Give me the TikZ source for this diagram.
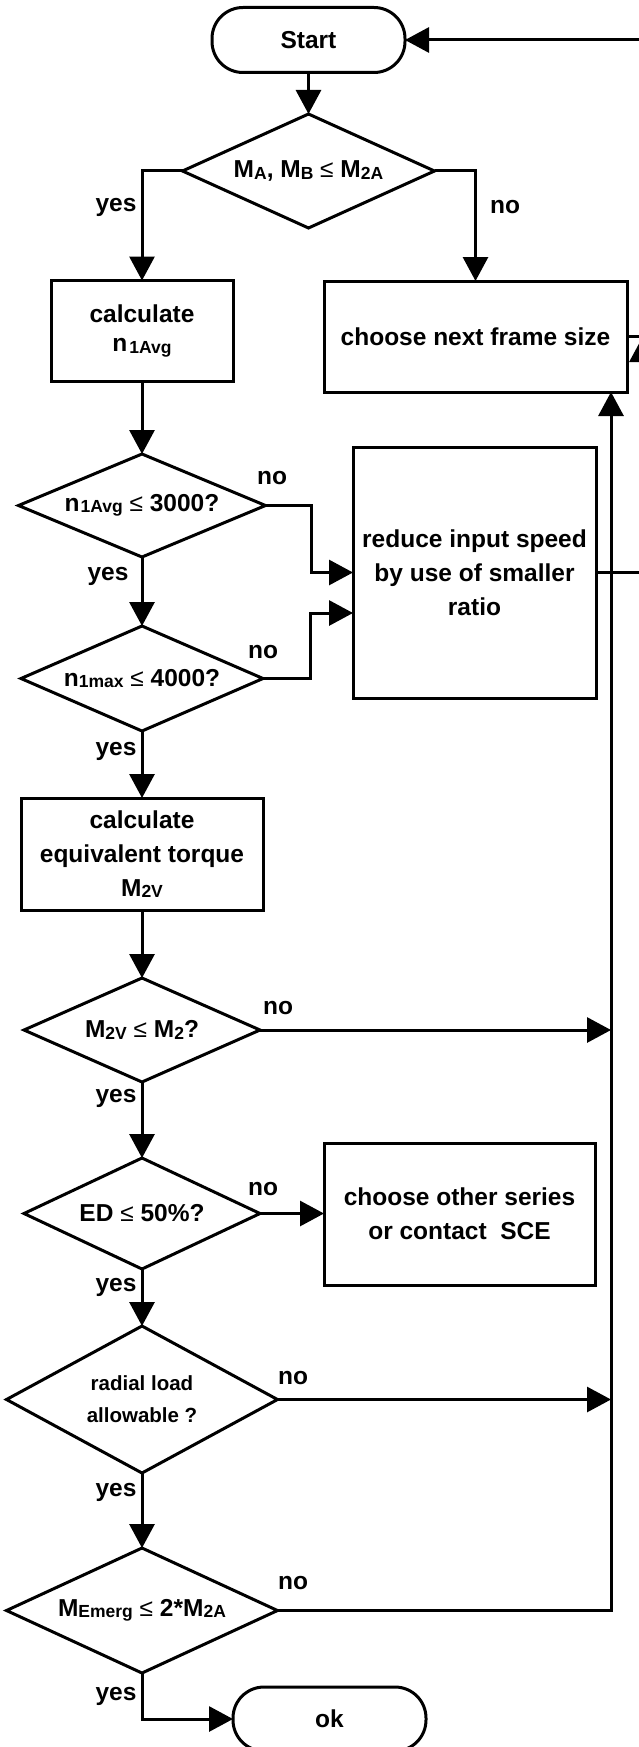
\documentclass[tikz,border=0pt]{standalone}
\usepackage{fontspec}
\setmainfont{Liberation Sans}
\usetikzlibrary{arrows.meta,shapes.geometric,calc}
\newcommand\sbx[1]{\raisebox{-1.5pt}{\fontsize{17.5}{17.5}\selectfont #1}}
\newcommand\leqsym{{\mdseries ≤}}
\begin{document}
\begin{tikzpicture}[x=1pt,y=-1pt,
  every node/.style={font=\bfseries\fontsize{24.5}{34}\selectfont},
  lw/.style={line width=3pt},
  boxnode/.style={draw,lw,rectangle,inner sep=0pt,outer sep=0pt,align=center},
  termnode/.style={boxnode,rounded corners=31pt},
  dia/.style={draw,lw,diamond,inner sep=0pt,outer sep=0pt},
  arr/.style={lw,-{Triangle[length=24pt,width=25pt]}},
  conn/.style={lw},
  lbl/.style={inner sep=0pt}
]
\useasboundingbox (0,0) rectangle (639,1747);
\clip (0,0) rectangle (639,1747);

% nodes
\node[termnode,minimum width=193pt,minimum height=65pt] (start) at (308.5,40) {Start};
\node[dia,minimum width=252pt,minimum height=114pt,
  label={center:{M\sbx{A}, M\sbx{B} \leqsym\ M\sbx{2A}}}] (d1) at (308.5,171) {};
\node[boxnode,minimum width=182pt,minimum height=101pt,font=\bfseries\fontsize{24.5}{29}\selectfont]
  (calc1) at (142,331) {calculate\\n\kern2pt\sbx{1Avg}};
\node[boxnode,minimum width=303pt,minimum height=111pt] (choose) at (475.5,336.5) {choose next frame size};
\node[boxnode,minimum width=243pt,minimum height=251pt] (reduce) at (474.5,572.5)
  {reduce input speed\\by use of smaller\\ratio};
\node[dia,minimum width=247pt,minimum height=103pt,
  label={center:{n\kern1pt\sbx{1Avg} \leqsym\ 3000?}}] (d2) at (142,505.5) {};
\node[dia,minimum width=242pt,minimum height=105pt,
  label={center:{n\sbx{1max} \leqsym\ 4000?}}] (d3) at (142,678.5) {};
\node[boxnode,minimum width=242pt,minimum height=112pt] (calc2) at (142,854)
  {calculate\\equivalent torque\\M\sbx{2V}};
\node[dia,minimum width=236pt,minimum height=104pt,
  label={center:{M\sbx{2V} \leqsym\ M\sbx{2}?}}] (d4) at (142,1030) {};
\node[dia,minimum width=236pt,minimum height=111pt,
  label={center:{ED \leqsym\ 50\%?}}] (d5) at (142,1213.5) {};
\node[boxnode,minimum width=271pt,minimum height=142pt] (other) at (459.5,1214)
  {choose other series\\or contact\ \ SCE};
\node[dia,minimum width=271pt,minimum height=147pt,
  label={[align=center,font=\bfseries\fontsize{20.5}{32}\selectfont]center:{radial load\\allowable ?}}] (d6) at (142,1399.5) {};
\node[dia,minimum width=271pt,minimum height=125pt,
  label={center:{M\sbx{Emerg} \leqsym\ 2*M\sbx{2A}}}] (d7) at (142,1610.5) {};
\node[termnode,minimum width=193pt,minimum height=64pt] (ok) at (329.5,1719) {ok};

% labels
\node[lbl] (y1) at (116,207) {yes};
\node[lbl] (n1) at (505,207) {no};
\node[lbl] (n2) at (272,478) {no};
\node[lbl] (y2) at (108,576) {yes};
\node[lbl] (n3) at (263,652) {no};
\node[lbl] (y3) at (116,751) {yes};
\node[lbl] (n4) at (278,1008) {no};
\node[lbl] (y4) at (116,1098) {yes};
\node[lbl] (n5) at (263,1189) {no};
\node[lbl] (y5) at (116,1287) {yes};
\node[lbl] (n6) at (293,1378) {no};
\node[lbl] (y6) at (116,1492) {yes};
\node[lbl] (n7) at (293,1583) {no};
\node[lbl] (y7) at (116,1696) {yes};

% coordinates
\coordinate (bus) at (611,1610.5);
\coordinate (eA) at (660,40);
\coordinate (eB) at (660,336.5);
\coordinate (eC) at (642,572.5);

% connectors
\draw[arr] (start.south) -- (d1.north);
\draw[arr] (d1.west) -| (calc1.north);
\draw[arr] (d1.east) -| (choose.north);
\draw[arr] (calc1.south) -- (d2.north);
\draw[arr] (d2.east) -- ++(46,0) |- (reduce.west);
\draw[arr] (d2.south) -- (d3.north);
\draw[arr] (d3.east) -- ++(47,0) |- ($(reduce.west)+(0,40.5)$);
\draw[arr] (d3.south) -- (calc2.north);
\draw[arr] (calc2.south) -- (d4.north);
\draw[arr] (d4.east) -- (d4.east -| bus);
\draw[arr] (d4.south) -- (d5.north);
\draw[arr] (d5.east) -- (d5.east -| other.west);
\draw[arr] (d5.south) -- (d6.north);
\draw[arr] (d6.east) -- (d6.east -| bus);
\draw[arr] (d6.south) -- (d7.north);
\draw[arr] (d7.east) -- (bus) -- (bus |- choose.south);
\draw[arr] (d7.south) |- (ok.west);
\draw[arr] (eA) -- (start.east);
\draw[conn] (choose.east) -- (eB);
\draw[arr,shorten >=1.5pt] (reduce.east) -- (eC) -- (eC |- choose.east);
\end{tikzpicture}
\end{document}
